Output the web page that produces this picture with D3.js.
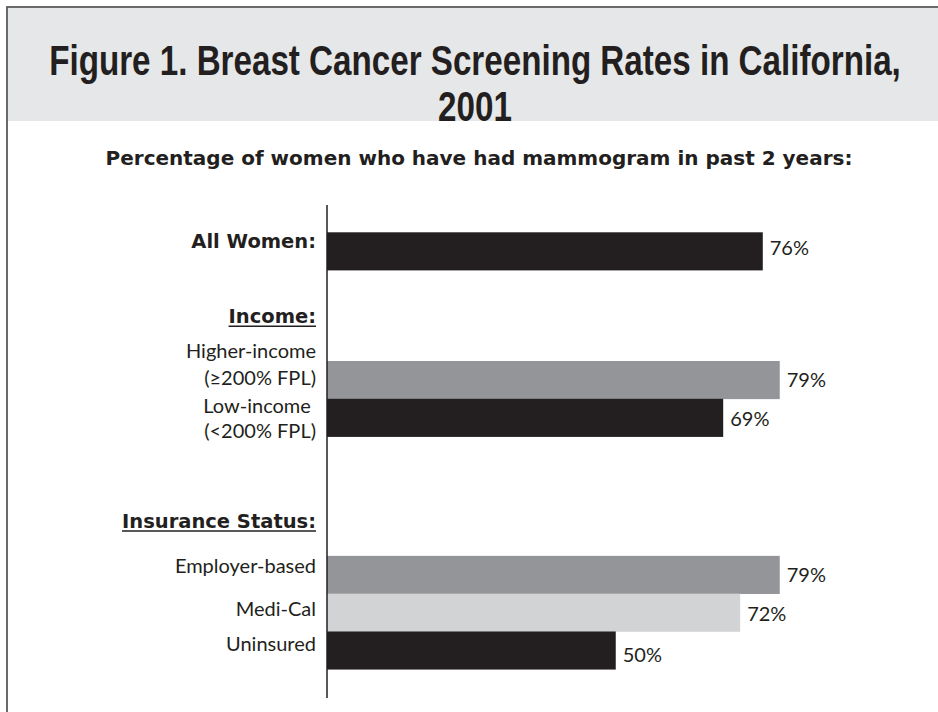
<!DOCTYPE html>
<html>
<head>
<meta charset="utf-8">
<script src="https://d3js.org/d3.v7.min.js"></script>
<style>
    body{margin:0;background:#fff;}
    .canvas{width:938px;height:712px;}
</style>
</head>
<body>
<div class="canvas" id="canvas"></div>
<script>
//Data
var categories = ['All Women:', 'Higher-income', 'Low-income', 'Employer-based', 'Medi-Cal', 'Uninsured'];
var subLabels = ['', '(\u2265200% FPL)', '(<200% FPL)', '', '', ''];
var values = [76, 79, 69, 79, 72, 50];
var valueLabels = ['76%', '79%', '69%', '79%', '72%', '50%'];
var sections = ['Income:', 'Insurance Status:'];
var title = ['Figure 1. Breast Cancer Screening Rates in California,', '2001'];
var subtitle = 'Percentage of women who have had mammogram in past 2 years:';

//Layout: row slots in bar heights, not data
var rowSlot = [0, 3.405, 4.405, 8.56, 9.56, 10.56];
var sectionSlot = [2.39, 7.81];
var barFill = ['#231f20', '#939598', '#231f20', '#939598', '#d1d3d4', '#231f20'];
var labelDy = [[15.7], [-3, 24], [14, 39], [17], [22], [20]];
var valueDy = [4, 7, 8.5, 7, 8, 12];

var outerWidth = document.getElementById('canvas').clientWidth,
    outerHeight = document.getElementById('canvas').clientHeight;

var svg = d3.select('.canvas')
    .append('svg')
    .attr('width', outerWidth)
    .attr('height', outerHeight);

//Frame + grey header band
svg.append('rect')
    .attr('x', 8).attr('y', 8)
    .attr('width', outerWidth).attr('height', 113)
    .style('fill', '#e6e7e8');
svg.append('rect')
    .attr('x', 7).attr('y', 7)
    .attr('width', outerWidth + 20).attr('height', outerHeight + 20)
    .style('fill', 'none')
    .style('stroke', '#5a5a5c')
    .style('stroke-width', 1.8);

//Title - condensed bold face, fitted to the width seen in the figure
var titleW = 852, titleX = 475;
var titles = svg.selectAll('.title')
    .data(title)
    .enter()
    .append('text')
    .attr('class', 'title')
    .attr('text-anchor', 'middle')
    .style('font-weight', 'bold')
    .style('font-size', '43px')
    .style('fill', '#231f20')
    .text(function(d){ return d; });

var first = titles.node();
titles.style('font-family', '"Liberation Sans", Arial, sans-serif');
var wideLen = first.getComputedTextLength();
titles.style('font-family', '"Liberation Sans Narrow", "Liberation Sans", Arial, sans-serif');
var narrowLen = first.getComputedTextLength();

if (narrowLen < wideLen * 0.9) {
    //narrow face is installed: just size it
    var size = 43 * titleW / narrowLen;
    titles.style('font-size', size + 'px')
        .attr('x', titleX)
        .attr('y', function(d, i){ return 75 + i * 46; });
} else {
    //no narrow face: squeeze the regular one
    var k = titleW / wideLen;
    titles.style('font-family', '"Liberation Sans", Arial, sans-serif')
        .attr('x', 0)
        .attr('y', 0)
        .attr('transform', function(d, i){
            return 'translate(' + titleX + ',' + (75 + i * 46) + ') scale(' + k + ',1)';
        });
}

svg.append('text')
    .attr('x', 479)
    .attr('y', 165)
    .attr('text-anchor', 'middle')
    .style('font-family', '"DejaVu Sans", sans-serif')
    .style('font-weight', 'bold')
    .style('font-size', '20px')
    .style('fill', '#231f20')
    .text(subtitle);

//Scales
var axisX = 327;
var scaleX = d3.scaleLinear()
    .domain([0, 100])
    .range([333, 898.5]);

var scaleY = d3.scaleLinear()
    .domain([0, 1])
    .range([232.3, 270.1]);
var barH = scaleY(1) - scaleY(0);

var plot = svg.append('g');

//Bars
plot.selectAll('.bar')
    .data(values)
    .enter()
    .append('rect')
    .attr('class', 'bar')
    .attr('x', axisX)
    .attr('y', function(d, i){ return scaleY(rowSlot[i]); })
    .attr('width', function(d){ return scaleX(d) - axisX; })
    .attr('height', barH + 0.3)
    .style('fill', function(d, i){ return barFill[i]; });

//Value labels
plot.selectAll('.value')
    .data(values)
    .enter()
    .append('text')
    .attr('class', 'value')
    .attr('x', function(d){ return scaleX(d) + 7; })
    .attr('y', function(d, i){ return scaleY(rowSlot[i] + 0.5) + valueDy[i]; })
    .style('font-family', 'Lato, sans-serif')
    .style('font-size', '20px')
    .style('fill', '#231f20')
    .text(function(d, i){ return valueLabels[i]; });

//Category labels (one or two lines)
var labels = plot.selectAll('.cat')
    .data(categories)
    .enter()
    .append('g')
    .attr('class', 'cat')
    .attr('transform', function(d, i){ return 'translate(316,' + scaleY(rowSlot[i]) + ')'; });

labels.each(function(d, i){
    var g = d3.select(this);
    var lines = subLabels[i] ? [d + (i == 2 ? '\u00a0' : ''), subLabels[i]] : [d];
    lines.forEach(function(line, j){
        g.append('text')
            .attr('y', labelDy[i][j])
            .attr('text-anchor', 'end')
            .style('font-family', i == 0 ? '"DejaVu Sans", sans-serif' : 'Lato, sans-serif')
            .style('font-weight', i == 0 ? 'bold' : 'normal')
            .style('font-size', i == 0 ? '19.5px' : '20px')
            .style('fill', '#231f20')
            .text(line);
    });
});

//Section headers, underlined
var heads = plot.selectAll('.section')
    .data(sections)
    .enter()
    .append('text')
    .attr('class', 'section')
    .attr('x', 316)
    .attr('y', function(d, i){ return scaleY(sectionSlot[i]); })
    .attr('text-anchor', 'end')
    .style('font-family', '"DejaVu Sans", sans-serif')
    .style('font-weight', 'bold')
    .style('font-size', '19.5px')
    .style('fill', '#231f20')
    .text(function(d){ return d; });

heads.each(function(d, i){
    var w = this.getComputedTextLength();
    var y = scaleY(sectionSlot[i]) + 3.5;
    plot.append('line')
        .attr('x1', 316 - w).attr('x2', 316)
        .attr('y1', y).attr('y2', y)
        .style('stroke', '#231f20')
        .style('stroke-width', 1.5);
});

//Axis line
plot.append('line')
    .attr('x1', axisX).attr('x2', axisX)
    .attr('y1', 205).attr('y2', 698)
    .style('stroke', '#231f20')
    .style('stroke-width', 1.5);
</script>
</body>
</html>
